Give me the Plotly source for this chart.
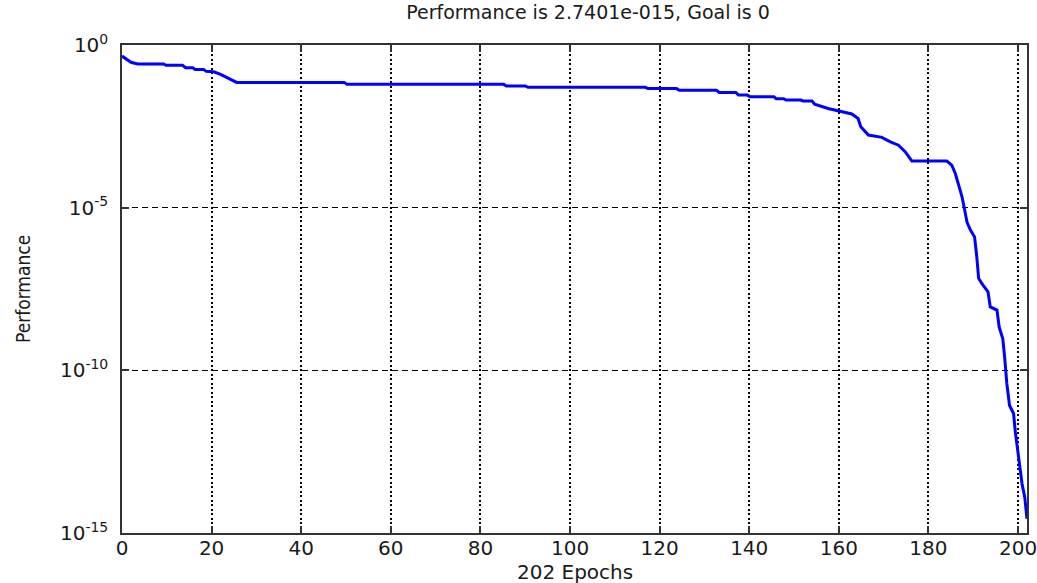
import plotly.graph_objects as go

# Values
epochs = [0, 1, 2, 3.5, 9.3, 9.8, 13.5, 14.2, 15.8, 16.3, 18.2, 18.8, 20.5, 22, 24, 25.6,
          49.6, 50.2, 85.2, 85.8, 90, 90.6, 116.8, 117.4, 123.8, 124.4, 132.7, 133.3,
          137, 137.6, 139.6, 140.2, 145.5, 146, 147.7, 148.2, 151.5, 152, 154, 154.6,
          157.6, 160, 162.9, 164.3, 164.9, 166.6, 169.6, 171.4, 173.3, 174.8, 176.3,
          184.1, 185.2, 186, 186.7, 187.5, 188.1, 188.6, 189.4, 190.3, 190.8, 191.2,
          191.9, 193.3, 193.8, 195.3, 195.8, 196.6, 197.0, 197.5, 198.1, 199.0, 199.4,
          200, 200.5, 200.9, 201.5, 202]
performance = [0.457, 0.36, 0.295, 0.26, 0.26, 0.237, 0.237, 0.20, 0.20, 0.178, 0.178, 0.155,
               0.150, 0.125, 0.09, 0.0708,
               0.0708, 0.0617, 0.0617, 0.055, 0.055, 0.050, 0.050, 0.0457, 0.0457, 0.0407,
               0.0407, 0.0347, 0.0347, 0.0288, 0.0288, 0.0257, 0.0257, 0.0224, 0.0224, 0.0204,
               0.0204, 0.0191, 0.0191, 0.0151,
               0.0112, 0.00955, 0.00759, 0.0055, 0.00309, 0.0017, 0.00145, 0.00107, 8.3e-4,
               5.25e-4, 2.7e-4,
               2.7e-4, 2.04e-4, 1.12e-4, 5.5e-5, 2.14e-5, 8.3e-6, 3.6e-6, 2.0e-6, 1.26e-6,
               3.0e-7, 6.8e-8,
               4.7e-8, 2.6e-8, 8.9e-9, 7.1e-9, 2.1e-9, 9.3e-10, 2.6e-10, 3.9e-11, 8.3e-12,
               4.7e-12, 1.26e-12,
               3.1e-13, 1.07e-13, 3.2e-14, 1.26e-14, 2.7401e-15]

x_ticks = [0, 20, 40, 60, 80, 100, 120, 140, 160, 180, 200]
y_ticks = [1e0, 1e-5, 1e-10, 1e-15]
y_ticklabels = ["10<sup>0</sup>", "10<sup>-5</sup>", "10<sup>-10</sup>", "10<sup>-15</sup>"]
title_text = "Performance is 2.7401e-015, Goal is 0"
x_title = "202 Epochs"
y_title = "Performance"

W, H = 1037, 583
L, R, T, B = 122, 10, 45, 50
plot_h = H - T - B

FAM = "DejaVu Sans, Verdana, sans-serif"
TXT = "#1a1a1a"

fig = go.Figure()
fig.add_trace(go.Scatter(x=epochs, y=performance, mode="lines",
                         line=dict(color="#0000FF", width=3), showlegend=False))

fig.update_layout(
    width=W, height=H,
    margin=dict(l=L, r=R, t=T, b=B),
    paper_bgcolor="white", plot_bgcolor="white",
    font=dict(family=FAM, color=TXT, size=20),
    title=dict(text=title_text, x=588 / W, xanchor="center",
               y=1 - 12 / H, yanchor="middle",
               font=dict(family=FAM, color=TXT, size=19)),
    annotations=[
        dict(text=x_title, xref="paper", yref="paper", x=0.5, y=-(572 - (H - B)) / plot_h,
             xanchor="center", yanchor="middle", showarrow=False,
             font=dict(family=FAM, color=TXT, size=20)),
        dict(text=y_title, xref="paper", yref="paper", x=-(L - 23) / (W - L - R), y=0.5,
             xanchor="center", yanchor="middle", textangle=-90, showarrow=False,
             font=dict(family="Liberation Sans Narrow, DejaVu Sans Condensed, Liberation Sans, sans-serif",
                       color=TXT, size=19)),
    ],
)
fig.update_xaxes(
    range=[0, 202], tickvals=x_ticks, ticks="inside", ticklen=7, tickwidth=2,
    tickcolor="#333", showline=True, linecolor="#333", linewidth=1.5, mirror="ticks",
    showgrid=True, gridcolor="#000", griddash="2px,2.5px", gridwidth=1.5, zeroline=False,
    automargin=False, ticklabelstandoff=-4, ticklabeloverflow="allow",
    tickfont=dict(family=FAM, color=TXT, size=20),
)
fig.update_yaxes(
    type="log", range=[-15, 0], tickvals=y_ticks, ticktext=y_ticklabels,
    ticks="inside", ticklen=7, tickwidth=2, tickcolor="#333",
    showline=True, linecolor="#333", linewidth=1.5, mirror="ticks",
    showgrid=True, gridcolor="#000", griddash="6px,4px", gridwidth=1, zeroline=False,
    automargin=False, ticklabelstandoff=8, ticklabeloverflow="allow",
    tickfont=dict(family=FAM, color=TXT, size=20),
)

fig.write_html("out.html", config={"displayModeBar": False},
               post_script="document.body.style.margin='0';")
